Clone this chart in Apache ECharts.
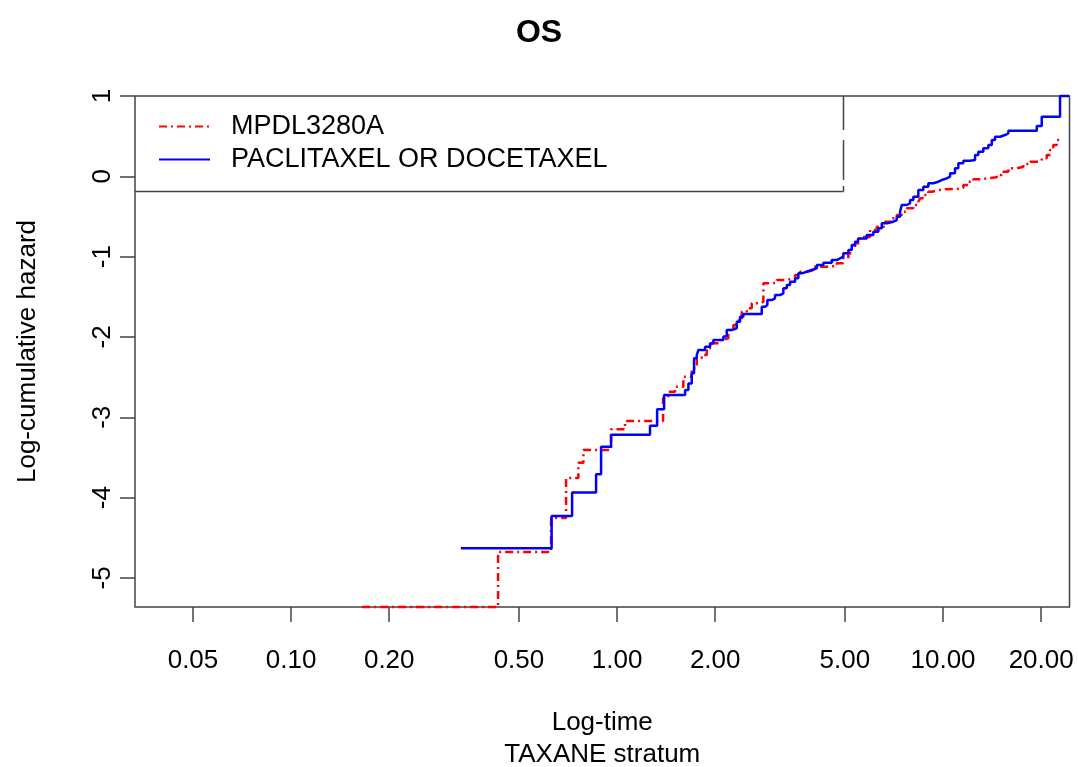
<!DOCTYPE html>
<html>
<head>
<meta charset="utf-8">
<script src="https://cdn.jsdelivr.net/npm/echarts@6/dist/echarts.min.js"></script>
<style>html,body{margin:0;padding:0;background:#fff}#c{width:1078px;height:767px}</style>
</head>
<body>
<div id="c"></div>
<script>
const xTickLabels = [0.05, 0.1, 0.2, 0.5, 1, 2, 5, 10, 20];
const yTickLabels = [-5, -4, -3, -2, -1, 0, 1];
const xRange = [0.0332, 24.43];
const yRange = [-5.362, 1.0];

const redName = 'MPDL3280A';
const redTime = [0.1652,0.4315,0.6275,0.6975,0.7607,0.7883,0.9585,1.058,1.384,1.437,
  1.506,1.597,1.695,1.756,1.819,1.884,1.956,2.070,2.119,2.194,
  2.274,2.356,2.413,2.500,2.589,2.746,2.811,2.947,3.090,3.275,
  3.516,3.642,3.819,4.002,4.399,4.720,4.945,5.123,5.248,5.372,
  5.565,5.972,6.262,6.639,6.960,7.211,7.470,7.738,8.107,8.398,
  8.500,8.806,9.013,9.234,9.674,10.14,11.27,11.54,11.96,12.39,
  12.99,13.77,14.61,15.14,15.86,16.83,17.63,18.49,19.39,20.08,
  20.80,21.29,21.79,22.33,23.34];
const redLogHaz = [-5.362,-4.677,-4.254,-3.756,-3.565,-3.407,-3.150,-3.046,-2.760,-2.681,
  -2.619,-2.495,-2.390,-2.266,-2.225,-2.137,-2.079,-2.038,-2.017,-1.913,
  -1.851,-1.789,-1.686,-1.643,-1.581,-1.561,-1.332,-1.325,-1.291,-1.270,
  -1.229,-1.188,-1.166,-1.125,-1.117,-1.083,-1.021,-0.959,-0.896,-0.834,
  -0.756,-0.668,-0.627,-0.565,-0.523,-0.482,-0.441,-0.398,-0.357,-0.316,
  -0.274,-0.233,-0.192,-0.171,-0.162,-0.154,-0.142,-0.108,-0.067,-0.037,
  -0.025,-0.012,0.016,0.057,0.100,0.120,0.153,0.182,0.194,0.224,
  0.265,0.327,0.390,0.452,0.452];

const blueName = 'PACLITAXEL OR DOCETAXEL';
const blueTime = [0.3317,0.6298,0.7278,0.8622,0.8932,0.9585,1.262,1.327,1.394,1.617,
  1.655,1.695,1.722,1.756,1.776,1.862,1.929,1.974,2.119,2.170,
  2.248,2.329,2.384,2.440,2.779,2.844,2.891,2.982,3.052,3.162,
  3.237,3.316,3.394,3.516,3.599,3.687,3.819,3.956,4.099,4.295,
  4.556,4.720,4.831,4.945,5.123,5.248,5.372,5.487,5.834,6.112,
  6.333,6.486,6.719,7.040,7.211,7.381,7.470,7.738,7.920,8.107,
  8.398,8.700,9.013,9.338,9.674,9.908,10.26,10.51,10.88,11.14,
  11.54,12.10,12.54,12.83,13.29,13.77,14.11,14.44,14.96,15.49,
  15.86,19.39,20.08,22.85,24.35];
const blueLogHaz = [-4.631,-4.229,-3.936,-3.710,-3.366,-3.217,-3.106,-2.899,-2.723,-2.660,
  -2.579,-2.452,-2.266,-2.225,-2.162,-2.121,-2.079,-2.038,-1.994,-1.913,
  -1.892,-1.810,-1.748,-1.714,-1.623,-1.602,-1.540,-1.519,-1.478,-1.457,
  -1.394,-1.353,-1.312,-1.270,-1.208,-1.188,-1.166,-1.145,-1.104,-1.076,
  -1.042,-1.021,-1.001,-0.959,-0.917,-0.855,-0.814,-0.774,-0.731,-0.690,
  -0.647,-0.585,-0.565,-0.544,-0.503,-0.441,-0.357,-0.336,-0.295,-0.254,
  -0.171,-0.129,-0.087,-0.067,-0.046,-0.025,-0.005,0.037,0.100,0.162,
  0.194,0.203,0.265,0.306,0.349,0.390,0.452,0.493,0.514,0.535,
  0.568,0.626,0.742,1.0,1.0];

const L = Math.log10;
const toPairs = (t, v) => t.map((x, i) => [L(x), v[i]]);
const FONT = 'Liberation Sans';
const boxColor = '#444';

const chart = echarts.init(document.getElementById('c'), null, {renderer: 'canvas'});
chart.setOption({
  animation: false,
  backgroundColor: '#fff',
  textStyle: {fontFamily: FONT},
  title: {
    text: 'OS', left: 'center', top: 12,
    textStyle: {fontFamily: FONT, fontSize: 32, fontWeight: 'bold', color: '#000'}
  },
  grid: {
    left: 135, right: 8.5, top: 96, bottom: 160,
    outerBoundsMode: 'none', containLabel: false,
    show: true, borderColor: boxColor, borderWidth: 1.5, backgroundColor: 'transparent'
  },
  legend: {
    orient: 'vertical', left: 158, top: 113, padding: 0,
    itemWidth: 51, itemHeight: 14, itemGap: 6,
    data: [redName, blueName],
    itemStyle: {opacity: 0, borderWidth: 0},
    textStyle: {fontFamily: FONT, fontSize: 27, color: '#000', padding: [0, 0, 0, 16], lineHeight: 27}
  },
  xAxis: {
    type: 'value', min: L(xRange[0]), max: L(xRange[1]),
    name: 'Log-time\nTAXANE stratum', nameLocation: 'middle', nameGap: 100,
    nameTextStyle: {fontFamily: FONT, fontSize: 26, color: '#000', lineHeight: 32, verticalAlign: 'top'},
    axisLine: {show: false, onZero: false},
    splitLine: {show: false},
    axisTick: {show: true, length: 15, lineStyle: {color: boxColor, width: 1.5}, customValues: xTickLabels.map(L)},
    axisLabel: {
      margin: 41, fontFamily: FONT, fontSize: 26, color: '#000',
      customValues: xTickLabels.map(L),
      formatter: v => Math.pow(10, v).toFixed(2)
    }
  },
  yAxis: {
    type: 'value', min: yRange[0], max: yRange[1],
    name: 'Log-cumulative hazard', nameLocation: 'middle', nameGap: 94,
    nameTextStyle: {fontFamily: FONT, fontSize: 26, color: '#000'},
    axisLine: {show: false, onZero: false},
    splitLine: {show: false},
    axisTick: {show: true, length: 15, lineStyle: {color: boxColor, width: 1.5}, customValues: yTickLabels},
    axisLabel: {
      margin: 19, rotate: 90, fontFamily: FONT, fontSize: 26, color: '#000',
      customValues: yTickLabels
    }
  },
  series: [
    {
      name: redName, type: 'line', step: 'end', symbol: 'none', clip: false,
      data: toPairs(redTime, redLogHaz),
      lineStyle: {color: '#ff0000', width: 2.5, type: [8, 4, 2, 4]},
      itemStyle: {color: '#ff0000'}, z: 3
    },
    {
      name: blueName, type: 'line', step: 'end', symbol: 'none', clip: false,
      data: toPairs(blueTime, blueLogHaz),
      lineStyle: {color: '#0000ff', width: 2.5, type: 'solid'},
      itemStyle: {color: '#0000ff'}, z: 4
    }
  ],
  graphic: [
    {type: 'line', shape: {x1: 135, y1: 191.5, x2: 843.5, y2: 191.5}, style: {stroke: boxColor, lineWidth: 1.5}, z: 10},
    {type: 'line', shape: {x1: 843.5, y1: 96, x2: 843.5, y2: 130}, style: {stroke: boxColor, lineWidth: 1.5}, z: 10},
    {type: 'line', shape: {x1: 843.5, y1: 140, x2: 843.5, y2: 180}, style: {stroke: boxColor, lineWidth: 1.5}, z: 10},
    {type: 'line', shape: {x1: 843.5, y1: 186, x2: 843.5, y2: 191.5}, style: {stroke: boxColor, lineWidth: 1.5}, z: 10}
  ]
});
</script>
</body>
</html>
